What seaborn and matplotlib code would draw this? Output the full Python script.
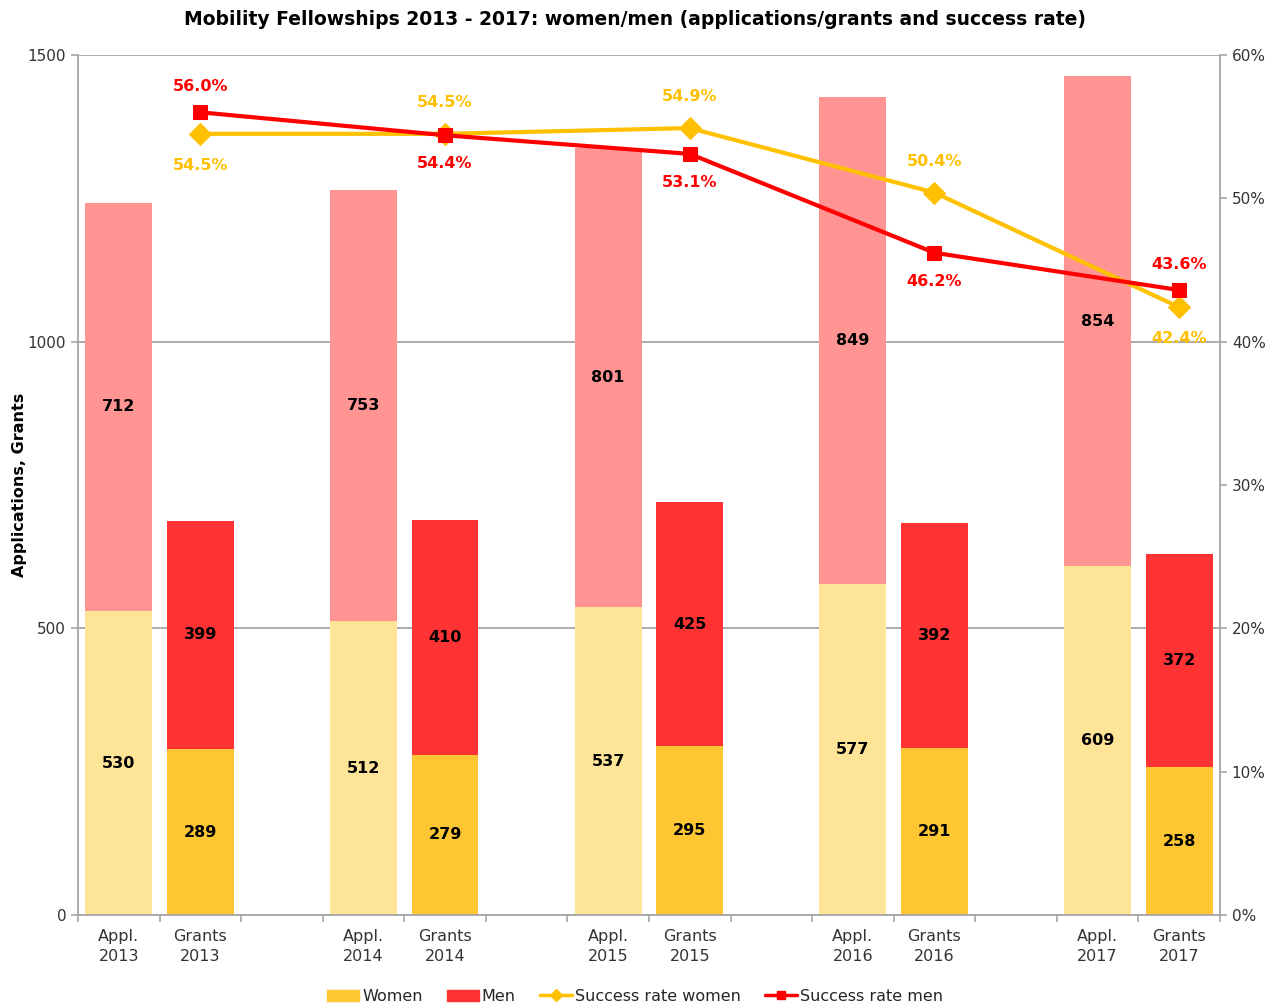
import matplotlib
matplotlib.use("Agg")
import matplotlib.pyplot as plt
import seaborn as sns
import pandas as pd
import numpy as np
from matplotlib.lines import Line2D
from matplotlib.patches import Patch

years = ["2013", "2014", "2015", "2016", "2017"]
appl_women = [530, 512, 537, 577, 609]
appl_men = [712, 753, 801, 849, 854]
grants_women = [289, 279, 295, 291, 258]
grants_men = [399, 410, 425, 392, 372]
rate_women = [54.5, 54.5, 54.9, 50.4, 42.4]
rate_men = [56.0, 54.4, 53.1, 46.2, 43.6]

sns.set_theme(style="white")
plt.rcParams['font.family'] = ['DejaVu Sans']

C_AW = "#FEE496"
C_GW = "#FFC634"
C_AM = "#FF9492"
C_GM = "#FF3333"
C_LW = "#FFC000"
C_LM = "#FF0000"

# build categories with blank spacers
order, rows = [], []
for i, y in enumerate(years):
    a, g = f"Appl.\n{y}", f"Grants\n{y}"
    order += [a, g]
    rows.append(dict(cat=a, women=appl_women[i], men=appl_men[i], kind="A"))
    rows.append(dict(cat=g, women=grants_women[i], men=grants_men[i], kind="G"))
    if i < len(years) - 1:
        order.append(" " * (i + 1))
df = pd.DataFrame(rows)
df["total"] = df["women"] + df["men"]

fig = plt.figure(figsize=(12.7, 10.07), dpi=100)
ax = fig.add_axes([0.0614, 0.0914, 0.8992, 0.854])

pal_total = {r.cat: (C_AM if r.kind == "A" else C_GM) for r in df.itertuples()}
pal_women = {r.cat: (C_AW if r.kind == "A" else C_GW) for r in df.itertuples()}

sns.barplot(data=df, x="cat", y="total", order=order, hue="cat", palette=pal_total,
            legend=False, width=0.82, ax=ax, saturation=1, edgecolor="none")
sns.barplot(data=df, x="cat", y="women", order=order, hue="cat", palette=pal_women,
            legend=False, width=0.82, ax=ax, saturation=1, edgecolor="none")

pos = {c: i for i, c in enumerate(order)}
for r in df.itertuples():
    x = pos[r.cat]
    ax.text(x, r.women / 2, f"{r.women}", ha="center", va="center",
            fontsize=11.5, fontweight="bold", color="black")
    ax.text(x, r.women + r.men / 2, f"{r.men}", ha="center", va="center",
            fontsize=11.5, fontweight="bold", color="black")

ax.set_xlim(-0.5, len(order) - 0.5)
ax.set_ylim(0, 1500)
ax.set_yticks([0, 500, 1000, 1500])
ax.set_yticklabels(["0", "500", "1000", "1500"])
ax.yaxis.grid(True, color="#A6A6A6", linewidth=1.3)
ax.set_axisbelow(True)

# x ticks: marks at boundaries, labels at centers
ax.set_xticks(np.arange(-0.5, len(order), 1.0))
ax.set_xticklabels([])
ax.set_xticks(np.arange(len(order)), minor=True)
ax.set_xticklabels(order, minor=True, linespacing=1.45)
ax.tick_params(axis="x", which="major", length=5, color="#A6A6A6", width=1.2, direction="out", bottom=True)
ax.tick_params(axis="x", which="minor", length=0, labelsize=11.5, labelcolor="#333333", pad=10)
ax.tick_params(axis="y", length=5, color="#A6A6A6", width=1.2, left=True, labelsize=11, labelcolor="#333333")
ax.set_xlabel("")
ax.set_ylabel("Applications, Grants", fontsize=11.5, fontweight="bold", color="black")
ax.yaxis.set_label_coords(-0.045, 0.5)

for s in ["top"]:
    ax.spines[s].set_visible(False)
for s in ["left", "bottom", "right"]:
    ax.spines[s].set_color("#A6A6A6")
    ax.spines[s].set_linewidth(1.3)

ax2 = ax.twinx()
gx = [pos[f"Grants\n{y}"] for y in years]
lw_df = pd.DataFrame(dict(x=gx, rw=rate_women, rm=rate_men))
sns.lineplot(data=lw_df, x="x", y="rw", ax=ax2, color=C_LW, linewidth=3,
             marker="D", markersize=11, markeredgecolor=C_LW)
sns.lineplot(data=lw_df, x="x", y="rm", ax=ax2, color=C_LM, linewidth=3,
             marker="s", markersize=10, markeredgecolor=C_LM)
ax2.set_ylim(0, 60)
ax2.set_yticks(range(0, 61, 10))
ax2.set_yticklabels([f"{v}%" for v in range(0, 61, 10)])
ax2.tick_params(axis="y", length=5, color="#A6A6A6", width=1.2, right=True, labelsize=11, labelcolor="#333333")
ax2.set_ylabel("")
ax2.set_xlabel("")
ax2.grid(False)
for s in ax2.spines.values():
    s.set_visible(False)
ax.set_xlim(-0.5, len(order) - 0.5)
ax2.set_xlim(-0.5, len(order) - 0.5)

w_off = [-2.2, 2.2, 2.2, 2.2, -2.2]
m_off = [1.8, -2.0, -2.0, -2.0, 1.8]
for i in range(len(years)):
    ax2.text(gx[i], rate_women[i] + w_off[i], f"{rate_women[i]:.1f}%", ha="center", va="center",
             fontsize=11.5, fontweight="bold", color=C_LW)
    ax2.text(gx[i], rate_men[i] + m_off[i], f"{rate_men[i]:.1f}%", ha="center", va="center",
             fontsize=11.5, fontweight="bold", color=C_LM)

fig.suptitle("Mobility Fellowships 2013 - 2017: women/men (applications/grants and success rate)",
             x=0.5, y=0.99, fontsize=13.5, fontweight="bold", color="black")

handles = [Patch(color=C_GW, label="Women"), Patch(color=C_GM, label="Men"),
           Line2D([0], [0], color=C_LW, lw=2.5, marker="D", markersize=6, label="Success rate women"),
           Line2D([0], [0], color=C_LM, lw=2.5, marker="s", markersize=6, label="Success rate men")]
fig.legend(handles=handles, loc="lower center", bbox_to_anchor=(0.5, -0.011), ncol=4, frameon=False,
           fontsize=11.5, handlelength=2.0, handletextpad=0.2, columnspacing=1.5)

fig.savefig("out.png", dpi=100)
